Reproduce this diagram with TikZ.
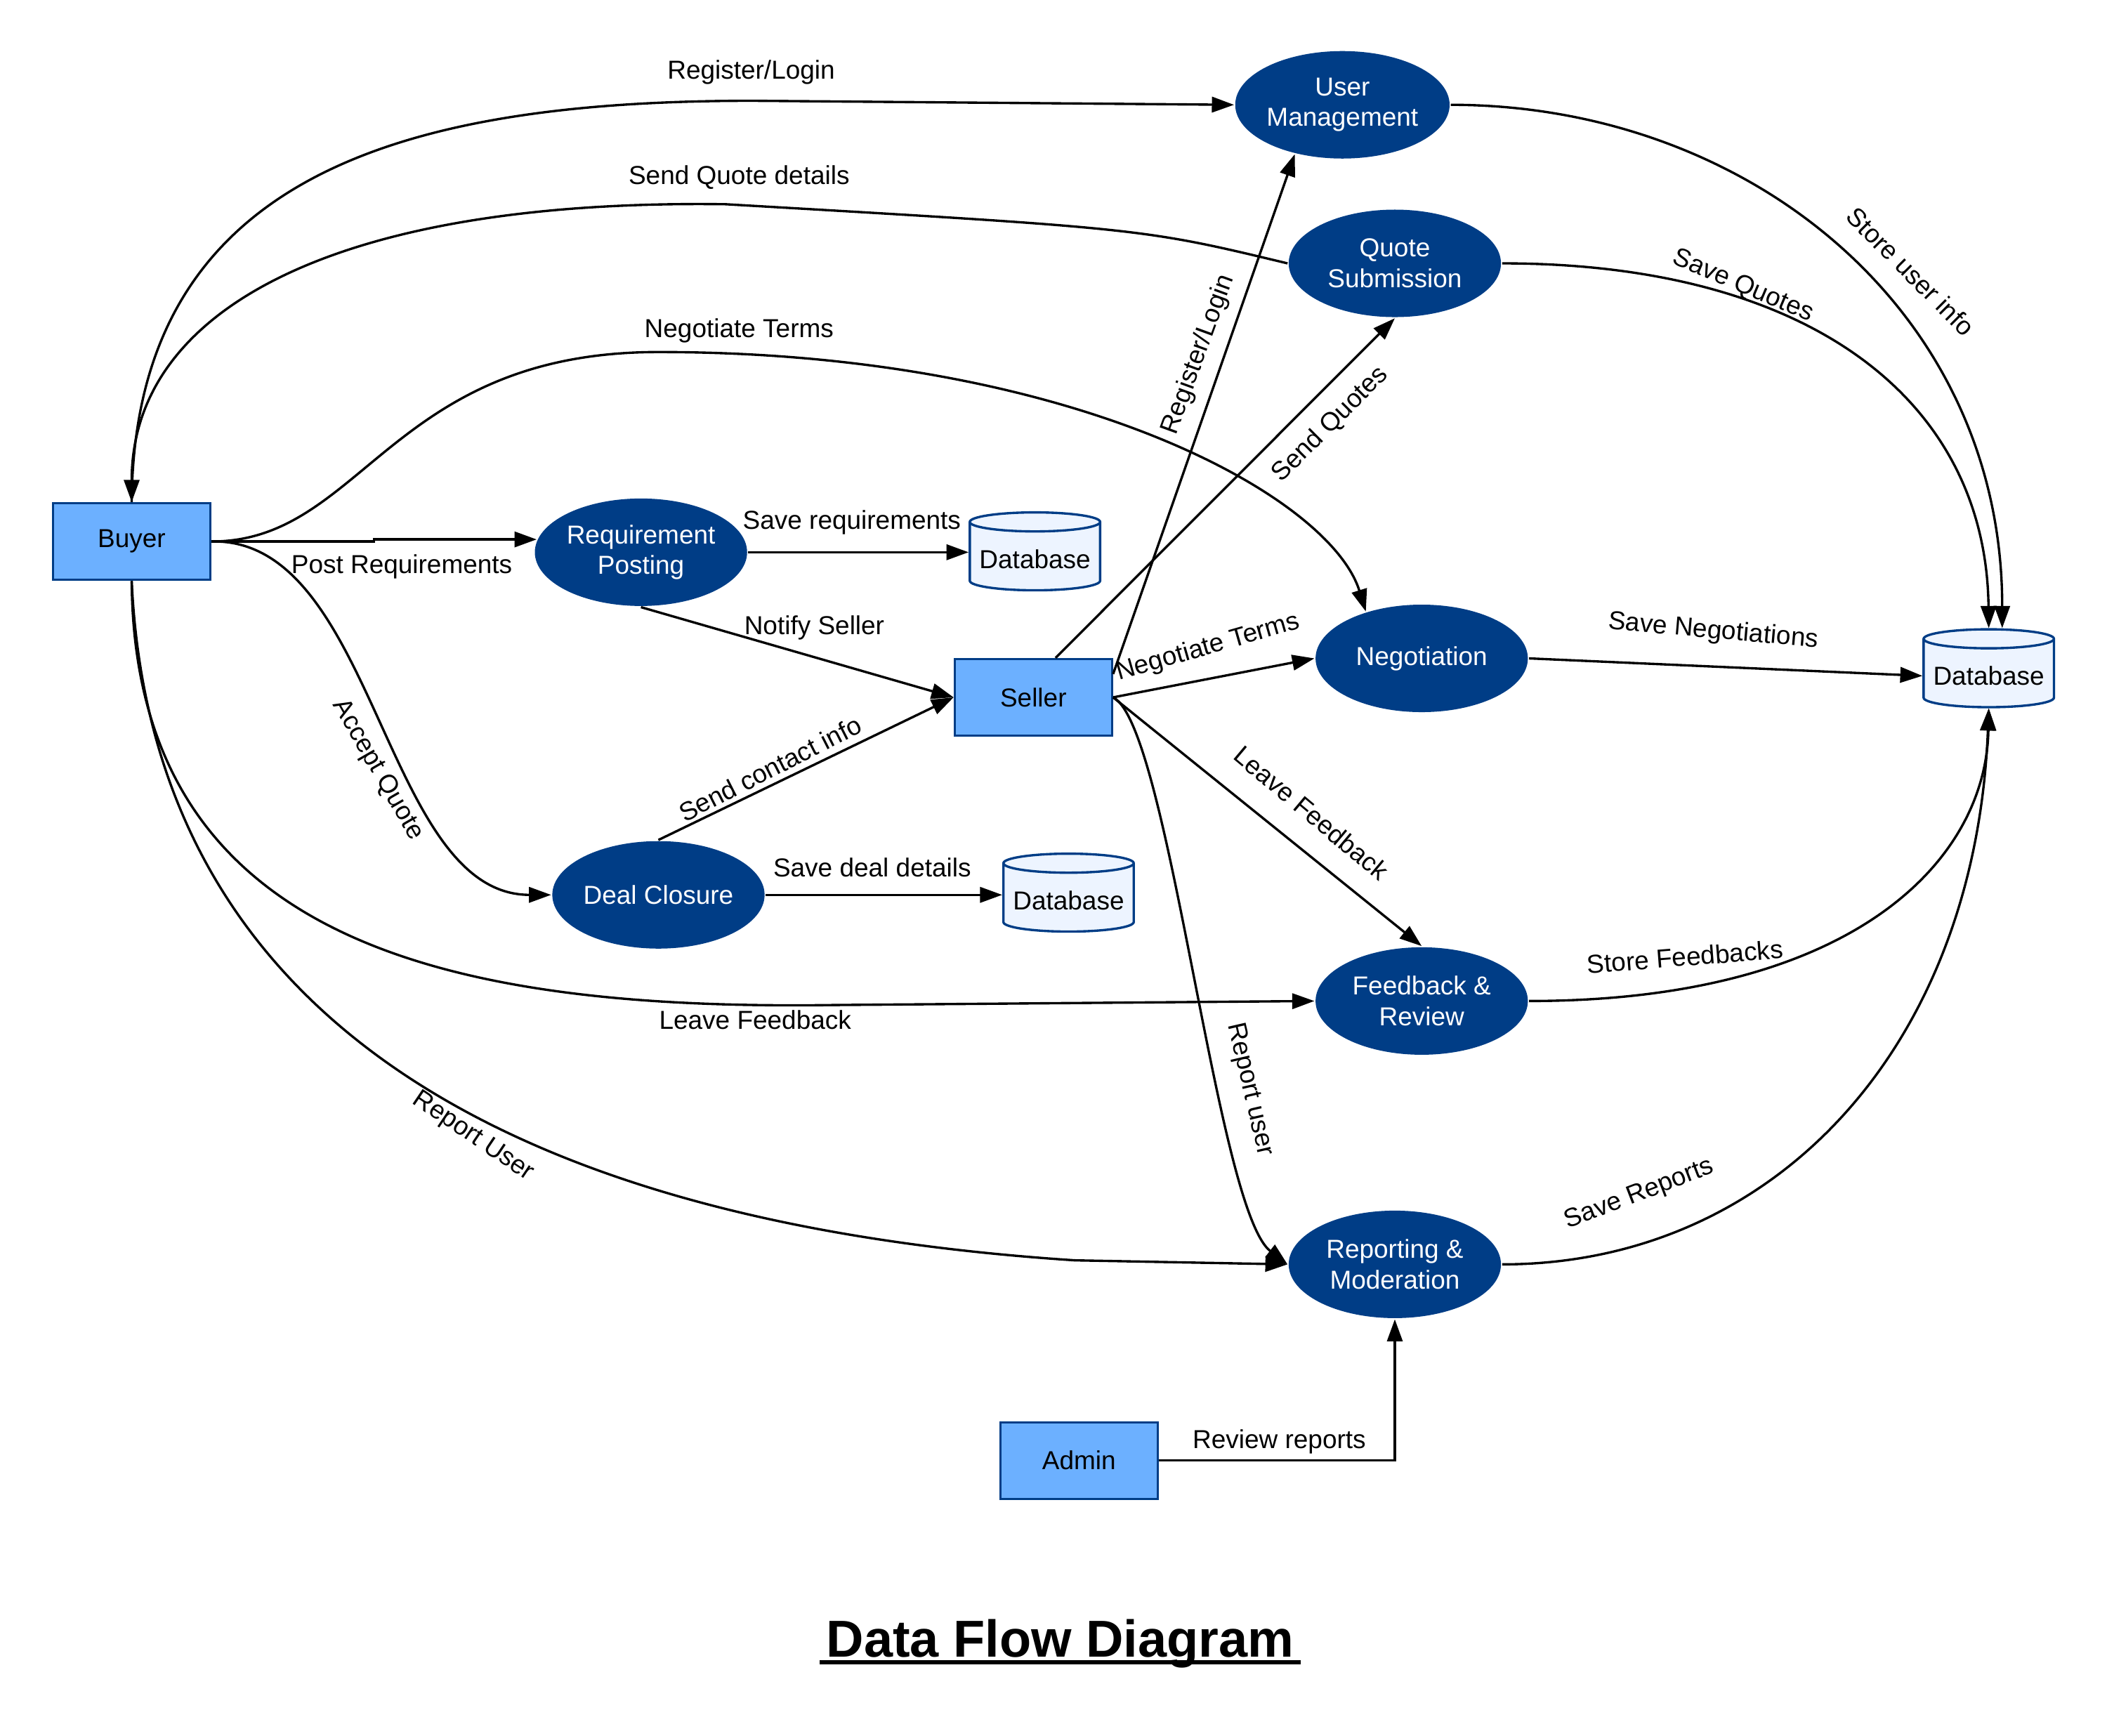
\documentclass[tikz,border=0pt]{standalone}
\usepackage{fontspec}
\usepackage{xcolor}
\usetikzlibrary{arrows.meta, shapes.geometric, positioning}
\setmainfont{Liberation Sans}
\definecolor{darkblue}{RGB}{0, 61, 134}
\definecolor{boxblue}{RGB}{108, 176, 255}
\definecolor{paleblue}{RGB}{237, 244, 255}

\begin{document}
    \begin{tikzpicture}[
        x = 0.02cm, y = -0.02cm, % one unit per sketch pixel, y going down
        > = {Triangle[length=3.3mm, width=2.3mm]}, % arrow head style
        line width=1pt, % line style
        font=\fontsize{11}{13}\selectfont
    ]
        \tikzstyle{process}=[
            ellipse,
            fill = darkblue,
            text = white,
            align = center,
            minimum width = 3.16cm,
            minimum height = 1.6cm,
            inner sep = 0pt,
        ]
        \tikzstyle{entity}=[
            rectangle,
            draw = darkblue,
            fill = boxblue,
            minimum width = 2.34cm,
            minimum height = 1.14cm,
        ]
        \tikzstyle{store}=[
            cylinder,
            shape border rotate = 90,
            aspect = 0.15,
            draw = darkblue,
            fill = paleblue,
            minimum width = 1.94cm,
            minimum height = 1.16cm,
        ]
        \tikzstyle{flowtext}=[inner sep = 0pt]

        \useasboundingbox (0,0) rectangle (1568,1292);

        % entities
        \node[entity] (buyer) at (98,403) {Buyer};
        \node[entity] (seller) at (769,519) {Seller};
        \node[entity] (admin) at (803,1087) {Admin};

        % processes
        \node[process] (um) at (999,78) {User\\Management};
        \node[process] (qs) at (1038,196) {Quote\\Submission};
        \node[process] (rp) at (477,411) {Requirement\\Posting};
        \node[process] (neg) at (1058,490) {Negotiation};
        \node[process] (dc) at (490,666) {Deal Closure};
        \node[process] (fr) at (1058,745) {Feedback \&\\Review};
        \node[process] (rm) at (1038,941) {Reporting \&\\Moderation};

        % data stores
        \node[store] (db1) [right=3.28cm of rp, yshift=-0.1cm] {Database};
        \node[store] (db2) [right=3.52cm of dc, yshift=-0.08cm] {Database};
        \node[store] (db3) at (1480,503) {Database};

        % buyer flows
        \draw[->] (buyer.north) .. controls (100,130) and (300,75) .. (560,75) -- (um.west)
            node[flowtext] at (559,54) {Register/Login};
        \draw[->] (qs.west) .. controls (850,170) .. (540,152)
            .. controls (250,148) and (98,230) .. (buyer.north)
            node[flowtext] at (550,132) {Send Quote details};
        \draw[->] (buyer.east) .. controls (270,403) and (290,262) .. (490,262)
            .. controls (800,262) and (990,370) .. (neg.140)
            node[flowtext] at (550,246) {Negotiate Terms};
        \draw[->] (buyer.east) -- ++(121,0) |- (rp.173)
            node[flowtext] at (299,422) {Post Requirements};
        \draw[->] (buyer.east) .. controls (280,400) and (285,666) .. (dc.west)
            node[flowtext, rotate=-60] at (281,573) {Accept Quote};
        \draw[->] (buyer.south) .. controls (100,700) and (330,752) .. (620,748) -- (fr.west)
            node[flowtext] at (562,759) {Leave Feedback};
        \draw[->] (buyer.south) .. controls (115,800) and (450,915) .. (800,938) -- (rm.west)
            node[flowtext, rotate=-34] at (352,846) {Report User};

        % posting and closure
        \path[->] (rp.east) edge node[flowtext, above=7pt, pos=0.47] {Save requirements} (rp.east -| db1.west);
        \path[->] (dc.east) edge node[flowtext, above=7pt, pos=0.45] {Save deal details} (dc.east -| db2.west);
        \draw[->] (rp.south) -- (seller.west)
            node[flowtext] at (606,467) {Notify Seller};
        \draw[->] (dc.north) -- (seller.west)
            node[flowtext, rotate=27] at (573,572) {Send contact info};

        % seller flows
        \draw[->] ([yshift=-2.4mm]seller.north east) -- (um.226)
            node[flowtext, rotate=70] at (892,264) {Register/Login};
        \draw[->] ([xshift=3.3mm]seller.north) -- (qs.south)
            node[flowtext, rotate=45] at (990,316) {Send Quotes};
        \draw[->] (seller.east) -- (neg.west)
            node[flowtext, rotate=16] at (899,482) {Negotiate Terms};
        \draw[->] (seller.east) -- (fr.north)
            node[flowtext, rotate=-40] at (976,605) {Leave Feedback};
        \draw[->] (seller.east) .. controls (870,540) and (905,900) .. (rm.west)
            node[flowtext, rotate=-77] at (930,811) {Report user};

        % into the main database
        \draw[->] (um.east) .. controls (1300,78) and (1490,230) .. ([xshift=2mm]db3.north)
            node[flowtext, rotate=-45] at (1422,202) {Store user info};
        \draw[->] (qs.east) .. controls (1350,196) and (1478,300) .. (db3.north)
            node[flowtext, rotate=-23] at (1297,213) {Save Quotes};
        \draw[->] (neg.east) -- (db3.west)
            node[flowtext, rotate=-5] at (1275,470) {Save Negotiations};
        \draw[->] (fr.east) .. controls (1380,745) and (1478,640) .. (db3.south)
            node[flowtext, rotate=4.5] at (1254,712) {Store Feedbacks};
        \draw[->] (rm.east) .. controls (1320,941) and (1470,780) .. (db3.south)
            node[flowtext, rotate=21] at (1220,889) {Save Reports};

        % admin
        \draw[->] (admin.east) -| (rm.south)
            node[flowtext] at (952,1073) {Review reports};

        % title
        \node[font=\fontsize{22}{26}\selectfont\bfseries, inner xsep=2.3pt, anchor=base] (title) at (789,1233) {Data Flow Diagram};
        \draw[line width=1.7pt] ([yshift=-2.3pt]title.base west) -- ([yshift=-2.3pt]title.base east);
    \end{tikzpicture}
\end{document}
